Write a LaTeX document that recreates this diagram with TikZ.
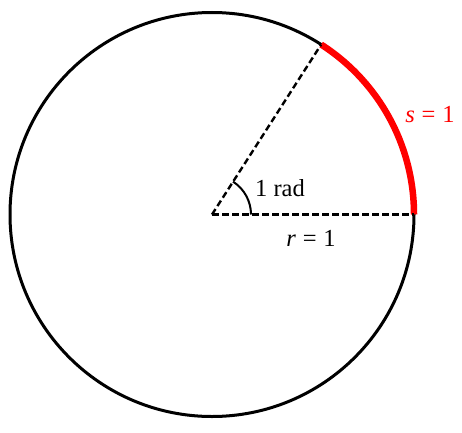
\documentclass[tikz,border=0pt]{standalone}
\usepackage{fontspec}
\setmainfont{Liberation Serif}
\usetikzlibrary{calc}
\newcommand{\eqone}[1]{\textit{#1}\hspace{0.28em}=\hspace{0.28em}1}
\begin{document}
\begin{tikzpicture}[x=1pt,y=1pt,
  lbl/.style={font=\fontsize{24.5}{28}\selectfont, inner sep=0pt},
  radius line/.style={line width=2.4pt, dash pattern=on 6.5pt off 3.5pt}]
\useasboundingbox (0,0) rectangle (462,432);
\coordinate (O) at (212,217.5);
\coordinate (A) at (414,217.5);
\coordinate (B) at ($(O)+(57.2958:202)$);
\draw[line width=3pt] (O) circle[radius=202];
\draw[red, line width=6.5pt] (A) arc[start angle=0, end angle=57.2958, radius=202];
\draw[radius line] (O) -- (A);
\draw[radius line] (O) -- (B);
\draw[line width=2pt] ($(O)+(39,0)$) arc[start angle=0, end angle=57.2958, radius=39];
\node[lbl] (rad) at (280,244) {1 rad};
\node[lbl] (r) at (311,194) {\eqone{r}};
\node[lbl, text=red] (s) at (430,317) {\eqone{s}};
\end{tikzpicture}
\end{document}
